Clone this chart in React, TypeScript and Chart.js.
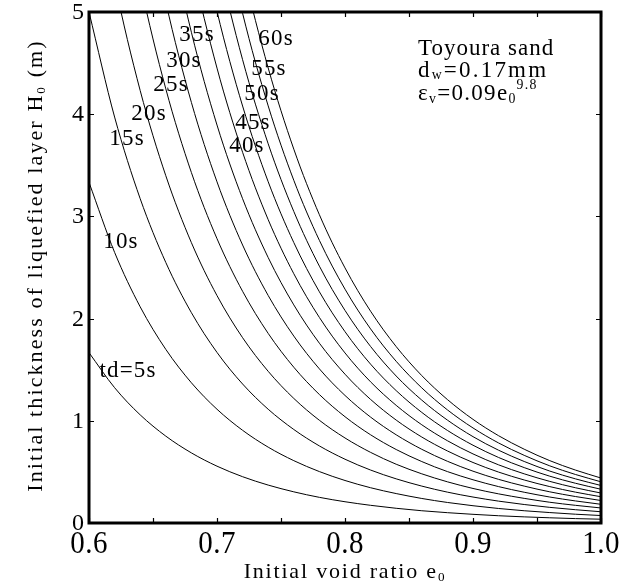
import React, { useEffect, useRef } from 'react';
import { Chart, registerables } from 'chart.js';

Chart.register(...registerables);

// Initial void ratio e0 (x values)
const voidRatio = [0.6, 0.62, 0.64, 0.66, 0.68, 0.7, 0.72, 0.74, 0.76, 0.78, 0.8, 0.82, 0.84, 0.86, 0.88, 0.9, 0.92, 0.94, 0.96, 0.98, 1.0];

// Initial thickness H0 (m) for each dissipation time td
const td05 = [1.667, 1.324, 1.058, 0.85, 0.686, 0.556, 0.453, 0.371, 0.305, 0.251, 0.208, 0.173, 0.144, 0.12, 0.101, 0.085, 0.071, 0.06, 0.051, 0.043, 0.037];
const td10 = [3.333, 2.648, 2.115, 1.699, 1.372, 1.113, 0.907, 0.742, 0.61, 0.503, 0.416, 0.345, 0.288, 0.24, 0.201, 0.169, 0.142, 0.12, 0.102, 0.086, 0.073];
const td15 = [5.0, 3.972, 3.173, 2.549, 2.058, 1.669, 1.36, 1.113, 0.915, 0.754, 0.624, 0.518, 0.432, 0.361, 0.302, 0.254, 0.214, 0.181, 0.153, 0.13, 0.11];
const td20 = [6.667, 5.295, 4.231, 3.398, 2.743, 2.225, 1.813, 1.484, 1.219, 1.005, 0.832, 0.691, 0.575, 0.481, 0.403, 0.338, 0.285, 0.241, 0.203, 0.173, 0.147];
const td25 = [8.333, 6.619, 5.288, 4.248, 3.429, 2.782, 2.267, 1.855, 1.524, 1.257, 1.04, 0.863, 0.719, 0.601, 0.503, 0.423, 0.356, 0.301, 0.254, 0.216, 0.183];
const td30 = [10.0, 7.943, 6.346, 5.097, 4.115, 3.338, 2.72, 2.226, 1.829, 1.508, 1.248, 1.036, 0.863, 0.721, 0.604, 0.507, 0.427, 0.361, 0.305, 0.259, 0.22];
const td35 = [11.667, 9.267, 7.404, 5.947, 4.801, 3.894, 3.173, 2.597, 2.134, 1.759, 1.456, 1.209, 1.007, 0.841, 0.705, 0.592, 0.498, 0.421, 0.356, 0.302, 0.257];
const td40 = [13.333, 10.591, 8.461, 6.796, 5.487, 4.451, 3.627, 2.968, 2.439, 2.011, 1.664, 1.381, 1.151, 0.961, 0.805, 0.676, 0.569, 0.481, 0.407, 0.345, 0.293];
const td45 = [15.0, 11.915, 9.519, 7.646, 6.173, 5.007, 4.08, 3.339, 2.744, 2.262, 1.872, 1.554, 1.295, 1.082, 0.906, 0.761, 0.641, 0.542, 0.458, 0.389, 0.33];
const td50 = [16.667, 13.238, 10.577, 8.495, 6.858, 5.563, 4.533, 3.71, 3.048, 2.513, 2.08, 1.727, 1.438, 1.202, 1.007, 0.845, 0.712, 0.602, 0.508, 0.432, 0.367];
const td55 = [18.333, 14.562, 11.634, 9.345, 7.544, 6.12, 4.987, 4.081, 3.353, 2.765, 2.288, 1.899, 1.582, 1.322, 1.107, 0.93, 0.783, 0.662, 0.559, 0.475, 0.403];
const td60 = [20.0, 15.886, 12.692, 10.194, 8.23, 6.676, 5.44, 4.452, 3.658, 3.016, 2.496, 2.072, 1.726, 1.442, 1.208, 1.014, 0.854, 0.722, 0.61, 0.518, 0.44];

const seriesList = [td05, td10, td15, td20, td25, td30, td35, td40, td45, td50, td55, td60];
const seriesNames = ['5s', '10s', '15s', '20s', '25s', '30s', '35s', '40s', '45s', '50s', '55s', '60s'];

// Curve annotations (text and anchor in data units)
const curveLabels = ['td=5s', '10s', '15s', '20s', '25s', '30s', '35s', '40s', '45s', '50s', '55s', '60s'];
const curveLabelE = [0.6305, 0.625, 0.6297, 0.6469, 0.6641, 0.6742, 0.6844, 0.7234, 0.7281, 0.7352, 0.7406, 0.7461];
const curveLabelH = [1.5, 2.76, 3.77, 4.02, 4.3, 4.54, 4.79, 3.7, 3.93, 4.21, 4.46, 4.75];

// Tick labels
const xTickValues = [0.6, 0.7, 0.8, 0.9, 1.0];
const xTickLabels = ['0.6', '0.7', '0.8', '0.9', '1.0'];
const yTickValues = [0, 1, 2, 3, 4, 5];
const yTickLabels = ['0', '1', '2', '3', '4', '5'];

const FAMILY = '"Liberation Serif", "Times New Roman", serif';

type Seg = { t: string; s?: number; dy?: number };
type TextOpts = { size: number; align?: 'left' | 'center' | 'right'; sy?: number; sp?: number; rot?: number };

function drawRich(ctx: CanvasRenderingContext2D, segs: Seg[], x: number, y: number, o: TextOpts) {
  ctx.save();
  ctx.translate(x, y);
  if (o.rot) ctx.rotate(o.rot);
  ctx.scale(1, o.sy ?? 1);
  (ctx as any).letterSpacing = `${o.sp ?? 0}px`;
  ctx.textAlign = 'left';
  ctx.textBaseline = 'alphabetic';
  ctx.fillStyle = '#000';
  const ws = segs.map((g) => {
    ctx.font = `${o.size * (g.s ?? 1)}px ${FAMILY}`;
    return ctx.measureText(g.t).width;
  });
  const total = ws.reduce((a, b) => a + b, 0);
  let cx = o.align === 'center' ? -total / 2 : o.align === 'right' ? -total : 0;
  segs.forEach((g, i) => {
    ctx.font = `${o.size * (g.s ?? 1)}px ${FAMILY}`;
    ctx.fillText(g.t, cx, (g.dy ?? 0) * o.size);
    cx += ws[i];
  });
  ctx.restore();
}

const paperPlugin = {
  id: 'paperDecor',
  afterDraw(chart: any) {
    const ctx: CanvasRenderingContext2D = chart.ctx;
    const xs = chart.scales.x;
    const ys = chart.scales.y;
    const a = chart.chartArea;
    ctx.save();
    // inward tick marks on all four sides
    ctx.strokeStyle = '#000';
    ctx.lineWidth = 1.2;
    ctx.beginPath();
    xs.ticks.forEach((t: any) => {
      const px = Math.round(xs.getPixelForValue(t.value)) + 0.5;
      ctx.moveTo(px, a.bottom);
      ctx.lineTo(px, a.bottom - 5);
      ctx.moveTo(px, a.top);
      ctx.lineTo(px, a.top + 5);
    });
    ys.ticks.forEach((t: any) => {
      const py = Math.round(ys.getPixelForValue(t.value)) + 0.5;
      ctx.moveTo(a.left, py);
      ctx.lineTo(a.left + 5, py);
      ctx.moveTo(a.right, py);
      ctx.lineTo(a.right - 5, py);
    });
    ctx.stroke();
    // frame
    ctx.lineWidth = 3;
    ctx.strokeRect(a.left, a.top, a.right - a.left, a.bottom - a.top);
    ctx.restore();

    // tick labels
    xTickValues.forEach((v, i) => {
      drawRich(ctx, [{ t: xTickLabels[i] }], xs.getPixelForValue(v), a.bottom + 30, { size: 29, align: 'center', sy: 1.1, sp: 0.5 });
    });
    yTickValues.forEach((v, i) => {
      drawRich(ctx, [{ t: yTickLabels[i] }], a.left - 5, ys.getPixelForValue(v) + 7, { size: 24, align: 'right' });
    });

    // axis titles
    drawRich(ctx, [{ t: 'Initial void ratio e' }, { t: '0', s: 0.6, dy: 0.12 }], (a.left + a.right) / 2, a.bottom + 55, { size: 22, align: 'center', sp: 1.8 });
    drawRich(
      ctx,
      [{ t: 'Initial thickness of liquefied layer H' }, { t: '0', s: 0.6, dy: 0.12 }, { t: ' (m)' }],
      42,
      (a.top + a.bottom) / 2 - 2,
      { size: 22, align: 'center', sp: 2.1, rot: -Math.PI / 2 }
    );

    // curve labels
    curveLabels.forEach((lab, i) => {
      drawRich(ctx, [{ t: lab }], xs.getPixelForValue(curveLabelE[i]), ys.getPixelForValue(curveLabelH[i]) + 7.5, { size: 23, align: 'center', sp: 1.2 });
    });

    // material note
    const nx = a.left + 329;
    drawRich(ctx, [{ t: 'Toyoura sand' }], nx, a.top + 43, { size: 23, sp: 1.0 });
    drawRich(ctx, [{ t: 'd' }, { t: 'w', s: 0.6, dy: 0.08 }, { t: '=0.17mm' }], nx, a.top + 65, { size: 23, sp: 2.2 });
    drawRich(
      ctx,
      [{ t: 'ε' }, { t: 'v', s: 0.6, dy: 0.12 }, { t: '=0.09e' }, { t: '0', s: 0.6, dy: 0.12 }, { t: '9.8', s: 0.6, dy: -0.5 }],
      nx,
      a.top + 88,
      { size: 23, sp: 1.3 }
    );
  },
};

export default function App() {
  const ref = useRef<HTMLCanvasElement>(null);
  useEffect(() => {
    document.body.style.margin = '0';
    const datasets = seriesList.map((arr, k) => ({
      label: seriesNames[k],
      data: arr.map((h, i) => ({ x: voidRatio[i], y: h })),
      borderColor: '#000',
      borderWidth: 1,
      pointRadius: 0,
      fill: false,
      cubicInterpolationMode: 'monotone' as const,
    }));
    const chart = new Chart(ref.current!, {
      type: 'line',
      data: { datasets },
      options: {
        responsive: false,
        animation: false,
        devicePixelRatio: 1,
        layout: { padding: { left: 89, top: 12, right: 32, bottom: 61 } },
        plugins: { legend: { display: false }, tooltip: { enabled: false } },
        scales: {
          x: {
            type: 'linear',
            min: 0.6,
            max: 1.0,
            ticks: { display: false, stepSize: 0.05 },
            grid: { display: false, drawTicks: false },
            border: { display: false },
          },
          y: {
            type: 'linear',
            min: 0,
            max: 5,
            ticks: { display: false, stepSize: 1 },
            grid: { display: false, drawTicks: false },
            border: { display: false },
          },
        },
      },
      plugins: [paperPlugin],
    });
    return () => chart.destroy();
  }, []);
  return (
    <div style={{ width: 633, height: 584 }}>
      <canvas ref={ref} width={633} height={584} style={{ display: 'block', width: 633, height: 584 }} />
    </div>
  );
}
